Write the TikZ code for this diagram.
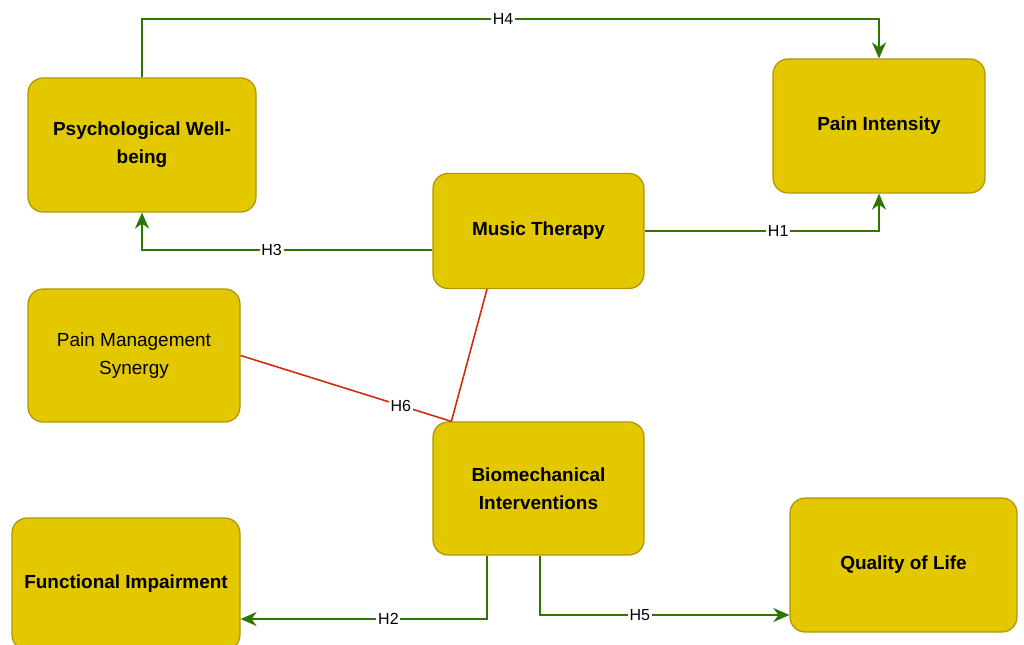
\documentclass[tikz,border=0pt]{standalone}
\usepackage{fontspec}
\setmainfont{Liberation Sans}
\usepackage{tikz}
\usetikzlibrary{arrows.meta,positioning,calc}

\definecolor{boxfill}{HTML}{E3C800}
\definecolor{boxline}{HTML}{B09500}
\definecolor{hgreen}{HTML}{2D7600}
\definecolor{hred}{HTML}{D02A12}

\begin{document}
\begin{tikzpicture}[
    x=0.02cm, y=-0.02cm,
    box/.style={rectangle, draw=boxline, fill=boxfill, line width=0.7pt, rounded corners=0.3cm, align=center, inner sep=0pt, font=\fontsize{10.8}{15.9}\selectfont},
    bbox/.style={box, font=\fontsize{10.8}{15.9}\selectfont\bfseries},
    arrow/.style={-{Stealth[length=3.2mm, width=2.8mm, inset=1mm]}, draw=hgreen, line width=1.1pt},
    link/.style={draw=hred, line width=0.9pt},
    hyp/.style={fill=white, inner sep=1pt, text=black, font=\fontsize{9.1}{10}\selectfont}
]
    \useasboundingbox (0,0) rectangle (1024,645);

    % Outcome boxes
    \node[bbox, minimum width=4.56cm, minimum height=2.68cm] (psych) at (142,145) {Psychological Well-\\being};
    \node[bbox, minimum width=4.24cm, minimum height=2.68cm] (pain) at (879,126) {Pain Intensity};
    \node[bbox, minimum width=4.56cm, minimum height=2.64cm] (func) at (126,584) {Functional Impairment};
    \node[bbox, minimum width=4.54cm, minimum height=2.68cm] (qol) at (903.5,565) {Quality of Life};

    % Interventions
    \node[bbox, minimum width=4.22cm, minimum height=2.30cm] (music) at (538.5,231) {Music Therapy};
    \node[bbox, minimum width=4.22cm, minimum height=2.66cm] (bio) at (538.5,488.5) {Biomechanical\\Interventions};

    % Synergy
    \node[box, minimum width=4.24cm, minimum height=2.66cm] (pms) at (134,355.5) {Pain Management\\Synergy};

    % Hypotheses
    \draw[arrow] (psych.north) -- ++(0,-58) -| node[hyp, pos=0.245] {H4} (pain.north);
    \draw[arrow] ($(music.west)+(0,19)$) -| node[hyp, pos=0.277] {H3} (psych.south);
    \draw[arrow] (music.east) -| node[hyp, pos=0.285] {H1} (pain.south);
    \draw[arrow] ($(bio.south)+(-51.5,0)$) |- node[hyp, pos=0.70] {H2} ($(func.east)+(0,35)$);
    \draw[arrow] ($(bio.south)+(1.5,0)$) |- node[hyp, pos=0.70] {H5} ($(qol.west)+(0,50)$);

    % Interaction
    \coordinate (join) at ($(bio.north west)+(19,0)$);
    \draw[link] (pms.east) -- node[hyp, pos=0.76] {H6} (join);
    \draw[link] ($(music.south)+(-51.5,0)$) -- (join);
\end{tikzpicture}
\end{document}
